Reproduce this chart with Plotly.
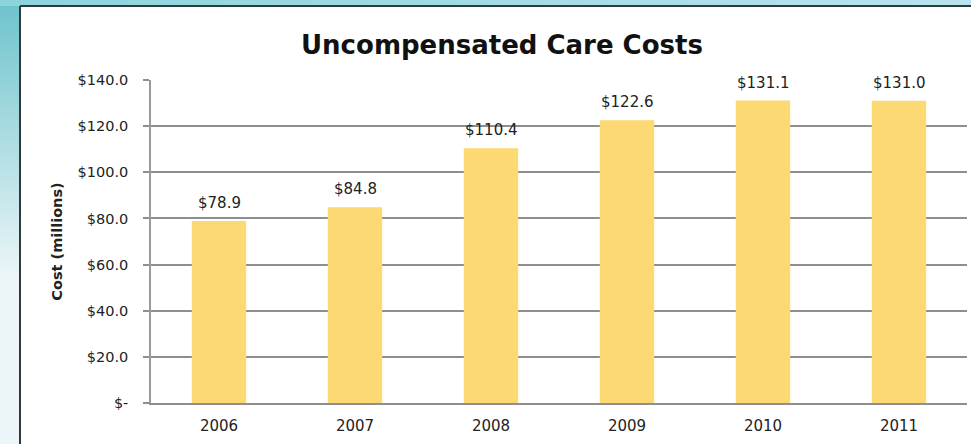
import plotly.graph_objects as go

# Uncompensated care costs by year (millions of dollars)
years = ["2006", "2007", "2008", "2009", "2010", "2011"]
costs = [78.9, 84.8, 110.4, 122.6, 131.1, 131.0]

tick_values = [0, 20, 40, 60, 80, 100, 120, 140]
tick_labels = ["$-", "$20.0", "$40.0", "$60.0", "$80.0", "$100.0", "$120.0", "$140.0"]

W, H = 971, 444
ML, MR, MT, MB = 151, 4, 80, 41
PW, PH = W - ML - MR, H - MT - MB


def px_x(p):
    return (p - ML) / PW


def px_y(p):
    return (H - MB - p) / PH


FONT = "DejaVu Sans"
TEXT = "#222222"

fig = go.Figure()
fig.add_trace(go.Bar(
    x=years,
    y=costs,
    marker=dict(color="#FCD973", line=dict(width=0)),
    width=0.40,
    hoverinfo="skip",
))

# value labels above each bar (category index keeps numeric-looking years as categories)
for i, v in enumerate(costs):
    fig.add_annotation(
        x=i, y=v, text=f"${v:.1f}", showarrow=False,
        xref="x", yref="y", yanchor="bottom", yshift=7,
        font=dict(family=FONT, size=15, color=TEXT),
    )

# slide-like backdrop: teal strips on the left and top, white panel with dark border
shapes = []
n = 120
for i in range(n):
    t = i / (n - 1)
    top = i * (H / n)
    bot = (i + 1) * (H / n) + 1
    # teal fading to near white down the left strip
    k = min(1.0, t * 1.6)
    r = int(110 + (236 - 110) * k)
    g = int(196 + (246 - 196) * k)
    b = int(204 + (248 - 204) * k)
    shapes.append(dict(
        type="rect", xref="paper", yref="paper", layer="below",
        x0=px_x(0), x1=px_x(21), y0=px_y(bot), y1=px_y(top),
        fillcolor=f"rgb({r},{g},{b})", line=dict(width=0),
    ))
for i in range(n):
    t = i / (n - 1)
    left = i * (W / n)
    right = (i + 1) * (W / n) + 1
    r = int(140 + (185 - 140) * t)
    g = int(212 + (228 - 212) * t)
    b = int(220 + (238 - 220) * t)
    shapes.append(dict(
        type="rect", xref="paper", yref="paper", layer="below",
        x0=px_x(left), x1=px_x(right), y0=px_y(6), y1=px_y(0),
        fillcolor=f"rgb({r},{g},{b})", line=dict(width=0),
    ))
# panel border lines
shapes.append(dict(type="line", xref="paper", yref="paper", layer="below",
                   x0=px_x(20), x1=px_x(W + 2), y0=px_y(6), y1=px_y(6),
                   line=dict(color="#2e3a3c", width=2)))
shapes.append(dict(type="line", xref="paper", yref="paper", layer="below",
                   x0=px_x(20), x1=px_x(20), y0=px_y(6), y1=px_y(H + 2),
                   line=dict(color="#2e3a3c", width=2)))

fig.add_annotation(
    x=px_x(502), y=px_y(45), xref="paper", yref="paper",
    text="<b>Uncompensated Care Costs</b>", showarrow=False,
    xanchor="center", yanchor="middle",
    font=dict(family=FONT, size=26, color="#111111"),
)

fig.update_layout(
    width=W, height=H,
    margin=dict(l=ML, r=MR, t=MT, b=MB, pad=0),
    paper_bgcolor="white",
    plot_bgcolor="white",
    showlegend=False,
    shapes=shapes,
    font=dict(family=FONT, size=14, color=TEXT),
)

fig.update_yaxes(
    range=[0, 140],
    tickvals=tick_values,
    ticktext=tick_labels,
    showgrid=True, gridcolor="#8e8e8e", gridwidth=1.5,
    showline=True, linecolor="#9a9a9a", linewidth=1.5,
    ticks="outside", ticklen=6, tickcolor="#8e8e8e", tickwidth=1.5,
    ticklabelstandoff=12,
    zeroline=False,
    tickfont=dict(family=FONT, size=14.5, color=TEXT),
    title=dict(text="<b>Cost (millions)</b>", standoff=12,
               font=dict(family=FONT, size=14.5, color=TEXT)),
)
fig.update_xaxes(
    type="category",
    range=[-0.5, len(years) - 0.5],
    showline=True, linecolor="#8e8e8e", linewidth=1.5,
    ticks="", showgrid=False,
    ticklabelstandoff=8,
    tickfont=dict(family=FONT, size=15, color=TEXT),
)

fig.write_html("out.html")
